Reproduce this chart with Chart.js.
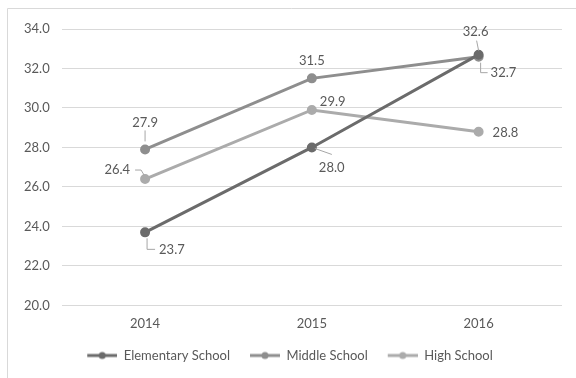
<!DOCTYPE html>
<html>
<head>
<meta charset="utf-8">
<script src="https://cdn.jsdelivr.net/npm/chart.js@4"></script>
<style>
  html, body { margin: 0; padding: 0; background: #fff; }
  #wrap { width: 576px; height: 378px; position: relative; }
</style>
</head>
<body>
<div id="wrap"><canvas id="chart" width="576" height="378"></canvas></div>
<script>
const years = ['2014', '2015', '2016'];
const elementary = [23.7, 28.0, 32.7];
const middle = [27.9, 31.5, 32.6];
const high = [26.4, 29.9, 28.8];

const seriesNames = ['Elementary School', 'Middle School', 'High School'];
const seriesColors = ['#6b6b6b', '#8e8e8e', '#ababab'];

// where each value label sits relative to its point, plus an optional leader line
const labelPlacement = [
  [{ dx: 14, dy: 17, align: 'left', leader: [[2, 6], [2, 17], [10, 17]] },
   { dx: 7, dy: 20, align: 'left', leader: [[3, 1], [20, 7]] },
   { dx: 12, dy: 18, align: 'left', leader: [[2, 8], [2, 18], [9, 18]] }],
  [{ dx: 0, dy: -27, align: 'center', leader: [[0, -8], [0, -19]] },
   { dx: 0, dy: -18, align: 'center' },
   { dx: -3, dy: -25, align: 'center', leader: [[0, -6], [-2, -16]] }],
  [{ dx: -15, dy: -9, align: 'right', leader: [[-1, -4], [-4, -9], [-10, -9]] },
   { dx: 8, dy: -8, align: 'left' },
   { dx: 14, dy: 1, align: 'left' }]
];

const fontFamily = 'Lato, "Open Sans", sans-serif';
const textColor = '#595959';

// legend swatch: line with a dot, with some blank room on the left for item spacing
function legendMarker(color) {
  const c = document.createElement('canvas');
  c.width = 36; c.height = 10;
  const g = c.getContext('2d');
  g.strokeStyle = color;
  g.lineWidth = 3;
  g.beginPath(); g.moveTo(6, 5); g.lineTo(36, 5); g.stroke();
  g.fillStyle = color;
  g.beginPath(); g.arc(21, 5, 3.5, 0, Math.PI * 2); g.fill();
  return c;
}

const frame = {
  id: 'frame',
  beforeDraw(chart) {
    const ctx = chart.ctx;
    ctx.save();
    ctx.strokeStyle = '#d9d9d9';
    ctx.lineWidth = 1;
    ctx.beginPath();
    ctx.moveTo(7.5, chart.height);
    ctx.lineTo(7.5, 8.5);
    ctx.lineTo(chart.width, 8.5);
    ctx.stroke();
    ctx.restore();
  }
};

const valueLabels = {
  id: 'valueLabels',
  afterDatasetsDraw(chart) {
    const ctx = chart.ctx;
    ctx.save();
    ctx.font = '13px ' + fontFamily;
    ctx.textBaseline = 'middle';
    chart.data.datasets.forEach((ds, i) => {
      chart.getDatasetMeta(i).data.forEach((pt, j) => {
        const p = labelPlacement[i][j];
        if (p.leader) {
          ctx.strokeStyle = '#a6a6a6';
          ctx.lineWidth = 1;
          ctx.beginPath();
          p.leader.forEach(([lx, ly], k) => {
            if (k === 0) ctx.moveTo(pt.x + lx, pt.y + ly);
            else ctx.lineTo(pt.x + lx, pt.y + ly);
          });
          ctx.stroke();
        }
        ctx.fillStyle = textColor;
        ctx.textAlign = p.align;
        ctx.fillText(ds.data[j].toFixed(1), pt.x + p.dx, pt.y + p.dy);
      });
    });
    ctx.restore();
  }
};

const datasets = [elementary, middle, high].map((values, i) => ({
  label: seriesNames[i],
  data: values,
  borderColor: seriesColors[i],
  backgroundColor: seriesColors[i],
  borderWidth: 3,
  pointRadius: 3.5,
  pointHoverRadius: 3.5,
  tension: 0
}));

new Chart(document.getElementById('chart'), {
  type: 'line',
  data: { labels: years, datasets },
  options: {
    responsive: false,
    animation: false,
    layout: { padding: { left: 12, right: 14, top: 29, bottom: 6 } },
    scales: {
      x: {
        offset: true,
        grid: { display: false },
        border: { display: false },
        ticks: { color: textColor, font: { family: fontFamily, size: 13 }, padding: 3 }
      },
      y: {
        min: 20,
        max: 34,
        ticks: {
          stepSize: 2,
          color: textColor,
          font: { family: fontFamily, size: 13 },
          padding: 12,
          callback: v => v.toFixed(1)
        },
        grid: { color: '#d9d9d9', drawTicks: false },
        border: { display: false }
      }
    },
    plugins: {
      legend: {
        position: 'bottom',
        labels: {
          usePointStyle: true,
          pointStyleWidth: 36,
          color: textColor,
          font: { family: fontFamily, size: 13 },
          padding: 14,
          generateLabels: chart => chart.data.datasets.map((ds, i) => ({
            text: ds.label,
            fontColor: textColor,
            pointStyle: legendMarker(seriesColors[i]),
            datasetIndex: i,
            lineWidth: 0
          }))
        }
      },
      tooltip: { enabled: false }
    }
  },
  plugins: [frame, valueLabels]
});
</script>
</body>
</html>
